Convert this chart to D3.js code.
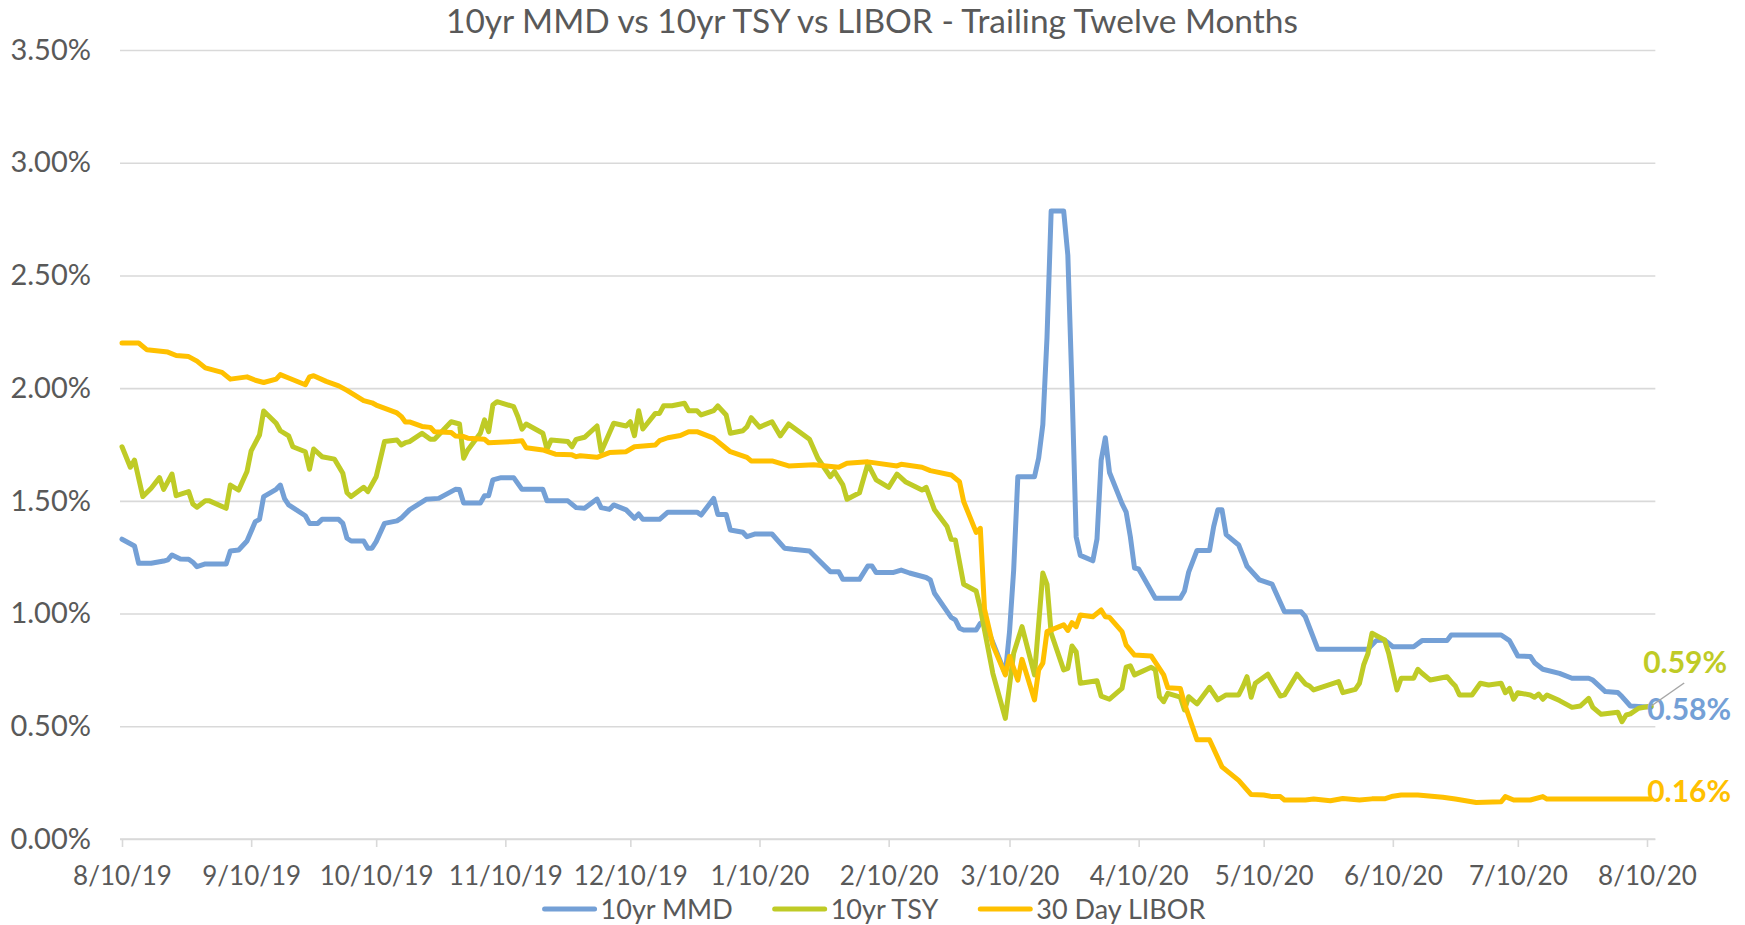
<!DOCTYPE html>
<html>
<head>
<meta charset="utf-8">
<script src="https://cdn.jsdelivr.net/npm/d3@7"></script>
<style>
  body { margin: 0; background: #fff; }
  svg { display: block; font-family: Lato, "Open Sans", sans-serif; }
</style>
</head>
<body>
<svg id="chart" width="1745" height="925"></svg>
<script>
const title = "10yr MMD vs 10yr TSY vs LIBOR - Trailing Twelve Months";
const seriesNames = ["10yr MMD", "10yr TSY", "30 Day LIBOR"];
const seriesColors = ["#74a0d6", "#bfcb26", "#ffc000"];
const yTicks = [0, 0.5, 1, 1.5, 2, 2.5, 3, 3.5];
const xTicks = ["2019-08-10", "2019-09-10", "2019-10-10", "2019-11-10", "2019-12-10", "2020-01-10",
  "2020-02-10", "2020-03-10", "2020-04-10", "2020-05-10", "2020-06-10", "2020-07-10", "2020-08-10"];
const endLabels = ["0.58%", "0.59%", "0.16%"];

// 10yr MMD (%)
const mmd = [
  ["2019-08-10",1.33],["2019-08-13",1.30],["2019-08-14",1.223],["2019-08-17",1.223],["2019-08-20",1.233],
  ["2019-08-21",1.238],["2019-08-22",1.26],["2019-08-24",1.242],["2019-08-26",1.241],["2019-08-27",1.228],
  ["2019-08-28",1.208],["2019-08-30",1.22],["2019-09-04",1.22],["2019-09-05",1.278],["2019-09-07",1.282],
  ["2019-09-09",1.322],["2019-09-11",1.408],["2019-09-12",1.418],["2019-09-13",1.519],["2019-09-16",1.551],
  ["2019-09-17",1.57],["2019-09-18",1.51],["2019-09-19",1.482],["2019-09-23",1.434],["2019-09-24",1.40],
  ["2019-09-26",1.40],["2019-09-27",1.418],["2019-10-01",1.418],["2019-10-02",1.40],["2019-10-03",1.334],
  ["2019-10-04",1.322],["2019-10-07",1.322],["2019-10-08",1.29],["2019-10-09",1.29],["2019-10-10",1.319],
  ["2019-10-12",1.40],["2019-10-15",1.411],["2019-10-16",1.423],["2019-10-18",1.46],["2019-10-22",1.507],
  ["2019-10-25",1.511],["2019-10-29",1.551],["2019-10-30",1.55],["2019-10-31",1.49],["2019-11-04",1.49],
  ["2019-11-05",1.523],["2019-11-06",1.523],["2019-11-07",1.593],["2019-11-09",1.603],["2019-11-12",1.603],
  ["2019-11-14",1.551],["2019-11-19",1.551],["2019-11-20",1.50],["2019-11-25",1.50],["2019-11-27",1.47],
  ["2019-11-29",1.467],["2019-12-02",1.508],["2019-12-03",1.47],["2019-12-05",1.462],["2019-12-06",1.482],
  ["2019-12-09",1.46],["2019-12-11",1.423],["2019-12-12",1.442],["2019-12-13",1.418],["2019-12-17",1.418],
  ["2019-12-19",1.45],["2019-12-26",1.45],["2019-12-27",1.437],["2019-12-30",1.511],["2019-12-31",1.44],
  ["2020-01-02",1.44],["2020-01-03",1.371],["2020-01-06",1.361],["2020-01-07",1.341],["2020-01-09",1.353],
  ["2020-01-13",1.353],["2020-01-16",1.29],["2020-01-18",1.285],["2020-01-22",1.278],["2020-01-24",1.241],
  ["2020-01-27",1.186],["2020-01-29",1.186],["2020-01-30",1.152],["2020-02-03",1.152],["2020-02-05",1.211],
  ["2020-02-06",1.211],["2020-02-07",1.182],["2020-02-11",1.182],["2020-02-13",1.193],["2020-02-15",1.18],
  ["2020-02-19",1.16],["2020-02-20",1.149],["2020-02-21",1.09],["2020-02-25",0.983],["2020-02-26",0.972],
  ["2020-02-27",0.935],["2020-02-28",0.927],["2020-03-02",0.927],["2020-03-03",0.957],["2020-03-04",0.964],
  ["2020-03-09",0.733],["2020-03-10",0.918],["2020-03-11",1.193],["2020-03-12",1.607],["2020-03-16",1.607],
  ["2020-03-17",1.69],["2020-03-18",1.838],["2020-03-19",2.224],["2020-03-20",2.786],["2020-03-23",2.786],
  ["2020-03-24",2.59],["2020-03-25",2.003],["2020-03-26",1.34],["2020-03-27",1.258],["2020-03-30",1.234],
  ["2020-03-31",1.331],["2020-04-01",1.68],["2020-04-02",1.78],["2020-04-03",1.626],["2020-04-06",1.488],
  ["2020-04-07",1.45],["2020-04-08",1.341],["2020-04-09",1.202],["2020-04-10",1.198],["2020-04-14",1.068],
  ["2020-04-20",1.068],["2020-04-21",1.10],["2020-04-22",1.184],["2020-04-24",1.28],["2020-04-27",1.28],
  ["2020-04-28",1.386],["2020-04-29",1.46],["2020-04-30",1.46],["2020-05-01",1.35],["2020-05-04",1.304],
  ["2020-05-05",1.258],["2020-05-06",1.21],["2020-05-09",1.149],["2020-05-12",1.131],["2020-05-15",1.008],
  ["2020-05-19",1.008],["2020-05-20",0.986],["2020-05-23",0.842],["2020-06-04",0.842],["2020-06-06",0.88],
  ["2020-06-08",0.883],["2020-06-10",0.853],["2020-06-15",0.853],["2020-06-17",0.88],["2020-06-23",0.88],
  ["2020-06-24",0.905],["2020-07-06",0.905],["2020-07-08",0.88],["2020-07-10",0.812],["2020-07-13",0.81],
  ["2020-07-14",0.782],["2020-07-16",0.753],["2020-07-20",0.735],["2020-07-23",0.713],["2020-07-27",0.713],
  ["2020-07-28",0.705],["2020-07-31",0.654],["2020-08-03",0.65],["2020-08-04",0.632],["2020-08-06",0.59],
  ["2020-08-11",0.585]
];

// 10yr TSY (%)
const tsy = [
  ["2019-08-10",1.74],["2019-08-12",1.649],["2019-08-13",1.681],["2019-08-15",1.519],["2019-08-17",1.556],
  ["2019-08-19",1.603],["2019-08-20",1.551],["2019-08-22",1.619],["2019-08-23",1.523],["2019-08-26",1.541],
  ["2019-08-27",1.486],["2019-08-28",1.472],["2019-08-30",1.50],["2019-08-31",1.50],["2019-09-04",1.467],
  ["2019-09-05",1.57],["2019-09-07",1.548],["2019-09-09",1.63],["2019-09-10",1.722],["2019-09-12",1.792],
  ["2019-09-13",1.899],["2019-09-16",1.844],["2019-09-17",1.811],["2019-09-19",1.788],["2019-09-20",1.74],
  ["2019-09-23",1.718],["2019-09-24",1.64],["2019-09-25",1.73],["2019-09-27",1.696],["2019-09-30",1.685],
  ["2019-10-02",1.622],["2019-10-03",1.536],["2019-10-04",1.519],["2019-10-07",1.56],["2019-10-08",1.541],
  ["2019-10-10",1.607],["2019-10-12",1.763],["2019-10-15",1.77],["2019-10-16",1.748],["2019-10-17",1.758],
  ["2019-10-18",1.763],["2019-10-21",1.80],["2019-10-23",1.773],["2019-10-24",1.773],["2019-10-28",1.851],
  ["2019-10-30",1.841],["2019-10-31",1.689],["2019-11-01",1.726],["2019-11-04",1.80],["2019-11-05",1.859],
  ["2019-11-06",1.807],["2019-11-07",1.925],["2019-11-08",1.94],["2019-11-12",1.918],["2019-11-13",1.874],
  ["2019-11-14",1.818],["2019-11-15",1.841],["2019-11-19",1.80],["2019-11-20",1.729],["2019-11-21",1.77],
  ["2019-11-25",1.763],["2019-11-26",1.74],["2019-11-27",1.773],["2019-11-29",1.782],["2019-12-02",1.832],
  ["2019-12-03",1.718],["2019-12-06",1.844],["2019-12-09",1.832],["2019-12-10",1.851],["2019-12-11",1.789],
  ["2019-12-12",1.90],["2019-12-13",1.819],["2019-12-16",1.888],["2019-12-17",1.888],["2019-12-18",1.922],
  ["2019-12-20",1.922],["2019-12-23",1.933],["2019-12-24",1.90],["2019-12-26",1.90],["2019-12-27",1.881],
  ["2019-12-30",1.90],["2019-12-31",1.921],["2020-01-02",1.881],["2020-01-03",1.80],["2020-01-06",1.811],
  ["2020-01-07",1.829],["2020-01-08",1.869],["2020-01-10",1.827],["2020-01-13",1.851],["2020-01-15",1.788],
  ["2020-01-17",1.841],["2020-01-22",1.773],["2020-01-24",1.689],["2020-01-27",1.607],["2020-01-28",1.63],
  ["2020-01-30",1.571],["2020-01-31",1.507],["2020-02-03",1.536],["2020-02-05",1.664],["2020-02-07",1.593],
  ["2020-02-10",1.56],["2020-02-12",1.619],["2020-02-14",1.585],["2020-02-18",1.548],["2020-02-19",1.56],
  ["2020-02-21",1.46],["2020-02-24",1.386],["2020-02-25",1.33],["2020-02-26",1.327],["2020-02-28",1.13],
  ["2020-03-02",1.10],["2020-03-03",1.024],["2020-03-06",0.735],["2020-03-09",0.535],["2020-03-11",0.824],
  ["2020-03-13",0.942],["2020-03-16",0.728],["2020-03-18",1.18],["2020-03-19",1.13],["2020-03-20",0.913],
  ["2020-03-23",0.75],["2020-03-24",0.757],["2020-03-25",0.856],["2020-03-26",0.831],["2020-03-27",0.691],
  ["2020-03-31",0.702],["2020-04-01",0.634],["2020-04-03",0.62],["2020-04-06",0.668],["2020-04-07",0.762],
  ["2020-04-08",0.768],["2020-04-09",0.728],["2020-04-13",0.762],["2020-04-14",0.75],["2020-04-15",0.631],
  ["2020-04-16",0.609],["2020-04-17",0.646],["2020-04-20",0.629],["2020-04-21",0.572],["2020-04-22",0.631],
  ["2020-04-24",0.599],["2020-04-27",0.673],["2020-04-29",0.617],["2020-05-01",0.639],["2020-05-04",0.639],
  ["2020-05-05",0.676],["2020-05-06",0.72],["2020-05-07",0.629],["2020-05-08",0.691],["2020-05-11",0.731],
  ["2020-05-14",0.634],["2020-05-15",0.639],["2020-05-18",0.731],["2020-05-20",0.688],["2020-05-21",0.679],
  ["2020-05-22",0.661],["2020-05-28",0.698],["2020-05-29",0.649],["2020-06-01",0.664],["2020-06-02",0.691],
  ["2020-06-03",0.772],["2020-06-04",0.821],["2020-06-05",0.913],["2020-06-08",0.883],["2020-06-09",0.824],
  ["2020-06-10",0.742],["2020-06-11",0.661],["2020-06-12",0.713],["2020-06-15",0.713],["2020-06-16",0.753],
  ["2020-06-17",0.735],["2020-06-19",0.705],["2020-06-23",0.72],["2020-06-24",0.698],["2020-06-25",0.679],
  ["2020-06-26",0.639],["2020-06-29",0.639],["2020-07-01",0.691],["2020-07-03",0.683],["2020-07-06",0.691],
  ["2020-07-07",0.649],["2020-07-08",0.668],["2020-07-09",0.62],["2020-07-10",0.649],["2020-07-13",0.639],
  ["2020-07-14",0.629],["2020-07-15",0.643],["2020-07-16",0.62],["2020-07-17",0.639],["2020-07-20",0.614],
  ["2020-07-23",0.584],["2020-07-25",0.59],["2020-07-27",0.624],["2020-07-28",0.584],["2020-07-30",0.553],
  ["2020-08-03",0.562],["2020-08-04",0.52],["2020-08-05",0.55],["2020-08-06",0.555],["2020-08-08",0.58],
  ["2020-08-11",0.59]
];

// 30 Day LIBOR (%)
const libor = [
  ["2019-08-10",2.20],["2019-08-14",2.20],["2019-08-16",2.17],["2019-08-21",2.16],["2019-08-23",2.145],
  ["2019-08-26",2.14],["2019-08-28",2.12],["2019-08-30",2.09],["2019-09-03",2.07],["2019-09-05",2.04],
  ["2019-09-09",2.05],["2019-09-11",2.035],["2019-09-13",2.025],["2019-09-16",2.04],["2019-09-17",2.06],
  ["2019-09-19",2.045],["2019-09-23",2.015],["2019-09-24",2.05],["2019-09-25",2.055],["2019-09-28",2.03],
  ["2019-10-01",2.01],["2019-10-03",1.99],["2019-10-07",1.945],["2019-10-09",1.935],["2019-10-10",1.925],
  ["2019-10-15",1.89],["2019-10-16",1.875],["2019-10-17",1.85],["2019-10-18",1.85],["2019-10-21",1.83],
  ["2019-10-23",1.826],["2019-10-24",1.807],["2019-10-28",1.803],["2019-10-29",1.788],["2019-10-31",1.785],
  ["2019-11-01",1.778],["2019-11-05",1.773],["2019-11-06",1.758],["2019-11-12",1.763],["2019-11-14",1.767],
  ["2019-11-15",1.736],["2019-11-19",1.726],["2019-11-22",1.707],["2019-11-26",1.704],["2019-11-27",1.696],
  ["2019-11-28",1.70],["2019-12-02",1.693],["2019-12-05",1.714],["2019-12-09",1.718],["2019-12-11",1.74],
  ["2019-12-16",1.748],["2019-12-17",1.767],["2019-12-19",1.78],["2019-12-22",1.79],["2019-12-24",1.807],
  ["2019-12-26",1.807],["2019-12-30",1.778],["2020-01-03",1.718],["2020-01-07",1.693],["2020-01-08",1.677],
  ["2020-01-13",1.677],["2020-01-17",1.655],["2020-01-23",1.66],["2020-01-29",1.649],["2020-01-31",1.667],
  ["2020-02-05",1.673],["2020-02-12",1.655],["2020-02-13",1.662],["2020-02-18",1.649],["2020-02-20",1.634],
  ["2020-02-25",1.615],["2020-02-27",1.585],["2020-02-28",1.497],["2020-03-02",1.36],["2020-03-03",1.378],
  ["2020-03-04",1.02],["2020-03-06",0.86],["2020-03-09",0.728],["2020-03-10",0.81],["2020-03-12",0.705],
  ["2020-03-13",0.797],["2020-03-16",0.617],["2020-03-17",0.75],["2020-03-18",0.78],["2020-03-19",0.92],
  ["2020-03-23",0.95],["2020-03-24",0.925],["2020-03-25",0.96],["2020-03-26",0.942],["2020-03-27",0.994],
  ["2020-03-30",0.986],["2020-04-01",1.016],["2020-04-02",0.986],["2020-04-03",0.983],["2020-04-06",0.92],
  ["2020-04-07",0.86],["2020-04-09",0.816],["2020-04-13",0.812],["2020-04-16",0.728],["2020-04-17",0.671],
  ["2020-04-20",0.668],["2020-04-21",0.60],["2020-04-24",0.44],["2020-04-27",0.44],["2020-04-30",0.32],
  ["2020-05-04",0.26],["2020-05-07",0.197],["2020-05-10",0.195],["2020-05-12",0.188],["2020-05-14",0.188],
  ["2020-05-15",0.173],["2020-05-20",0.173],["2020-05-22",0.177],["2020-05-26",0.17],["2020-05-29",0.18],
  ["2020-06-02",0.173],["2020-06-05",0.178],["2020-06-08",0.178],["2020-06-10",0.19],["2020-06-12",0.195],
  ["2020-06-16",0.195],["2020-06-22",0.185],["2020-06-25",0.177],["2020-06-30",0.162],["2020-07-06",0.165],
  ["2020-07-07",0.188],["2020-07-09",0.173],["2020-07-13",0.173],["2020-07-16",0.188],["2020-07-17",0.177],
  ["2020-08-11",0.177]
];

const allSeries = [mmd, tsy, libor];

const parse = d3.timeParse("%Y-%m-%d");
const svg = d3.select("#chart");
const textColor = "#595959";
const gridColor = "#d9d9d9";

const x = d3.scaleTime()
  .domain([parse("2019-08-10"), parse("2020-08-10")])
  .range([122, 1647]);
const y = d3.scaleLinear()
  .domain([0, 3.5])
  .range([839, 50]);

const gridLeft = 120;
const gridRight = x(parse("2020-08-12"));

// title, sized to the reference width
const titleText = svg.append("text")
  .attr("x", 872).attr("y", 33)
  .attr("text-anchor", "middle")
  .attr("fill", textColor)
  .style("font-size", "32px")
  .text(title);
const tw = titleText.node().getComputedTextLength();
titleText.style("font-size", Math.max(28, Math.min(38, 32 * 852 / tw)) + "px");

// y axis with gridlines
const yAxis = d3.axisLeft(y)
  .tickValues(yTicks)
  .tickSize(-(gridRight - gridLeft))
  .tickPadding(29)
  .tickFormat(d => d.toFixed(2) + "%");
svg.append("g")
  .attr("transform", `translate(${gridLeft},0)`)
  .call(yAxis)
  .call(g => g.attr("font-family", null).attr("font-size", null))
  .call(g => g.select(".domain").remove())
  .call(g => g.selectAll("line").attr("stroke", gridColor).attr("stroke-width", 1.6))
  .call(g => g.selectAll("text").attr("fill", textColor).style("font-size", "29px"));

// x axis
const xAxis = d3.axisBottom(x)
  .tickValues(xTicks.map(parse))
  .tickSize(8)
  .tickPadding(20)
  .tickFormat(d3.timeFormat("%-m/%-d/%y"));
svg.append("g")
  .attr("transform", `translate(0,${y(0)})`)
  .call(xAxis)
  .call(g => g.attr("font-family", null).attr("font-size", null))
  .call(g => g.select(".domain").remove())
  .call(g => g.selectAll("line").attr("stroke", gridColor).attr("stroke-width", 1.6))
  .call(g => g.selectAll("text").attr("fill", textColor).style("font-size", "26px"));
svg.append("line")
  .attr("x1", gridLeft).attr("x2", gridRight)
  .attr("y1", y(0)).attr("y2", y(0))
  .attr("stroke", gridColor).attr("stroke-width", 1.6);

// series lines
const line = d3.line()
  .x(d => x(parse(d[0])))
  .y(d => y(d[1]));
svg.append("g").selectAll("path")
  .data(allSeries)
  .join("path")
    .attr("d", line)
    .attr("fill", "none")
    .attr("stroke", (d, i) => seriesColors[i])
    .attr("stroke-width", 5)
    .attr("stroke-linejoin", "round")
    .attr("stroke-linecap", "round");

// end-of-line data labels (TSY label sits above, with a leader line)
const labelShift = [[-4, 13], [-8, -33], [-4, 3]];
allSeries.forEach((s, i) => {
  const last = s[s.length - 1];
  const ex = x(parse(last[0])), ey = y(last[1]);
  if (i === 1) {
    svg.append("line")
      .attr("x1", ex).attr("y1", ey)
      .attr("x2", ex + 33).attr("y2", ey - 23)
      .attr("stroke", "#a6a6a6").attr("stroke-width", 1.5);
  }
  svg.append("text")
    .attr("x", ex + labelShift[i][0])
    .attr("y", ey + labelShift[i][1])
    .attr("fill", seriesColors[i])
    .style("font-size", "30px")
    .style("font-weight", "bold")
    .text(endLabels[i]);
});

// legend
const legend = svg.append("g");
let lx = 540;
seriesNames.forEach((name, i) => {
  legend.append("line")
    .attr("x1", lx).attr("x2", lx + 50)
    .attr("y1", 909).attr("y2", 909)
    .attr("stroke", seriesColors[i]).attr("stroke-width", 5)
    .attr("stroke-linecap", "round");
  const t = legend.append("text")
    .attr("x", lx + 56).attr("y", 919)
    .attr("fill", textColor)
    .style("font-size", "27px")
    .text(name);
  lx += 56 + t.node().getComputedTextLength() + 42;
});
// centre the legend under the chart
const lb = legend.node().getBBox();
legend.attr("transform", `translate(${875 - (lb.x + lb.width / 2)},0)`);
</script>
</body>
</html>
